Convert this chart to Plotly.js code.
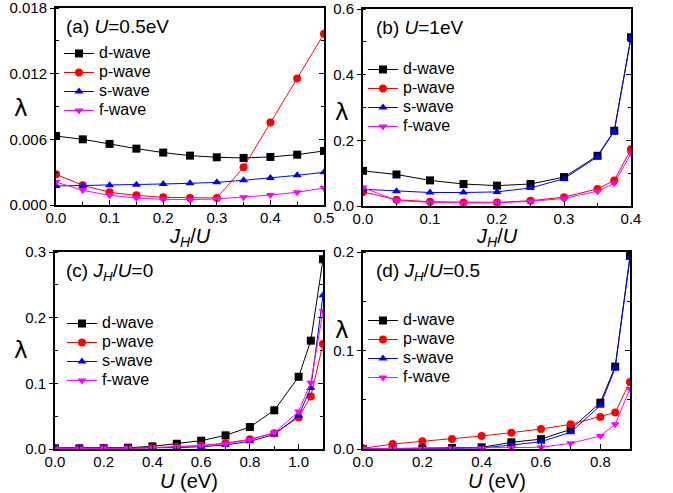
<!DOCTYPE html>
<html>
<head>
<meta charset="utf-8">
<script src="https://cdn.plot.ly/plotly-3.0.1.min.js"></script>
<style>html,body{margin:0;padding:0;background:#fff;}#chart{width:673px;height:493px;}</style>
</head>
<body>
<div id="chart"></div>
<script>
// ---- Data ----
const seriesNames = ["d-wave", "p-wave", "s-wave", "f-wave"];

// Panel (a): U = 0.5 eV, x = J_H/U
const xA = [0, 0.05, 0.1, 0.15, 0.2, 0.25, 0.3, 0.35, 0.4, 0.45, 0.5];
const aD = [0.0063, 0.0060, 0.00558, 0.00515, 0.00479, 0.00451, 0.00436, 0.0043, 0.00439, 0.0046, 0.00494];
const aP = [0.0028, 0.0018, 0.00116, 0.00088, 0.0007, 0.00064, 0.00064, 0.00345, 0.00753, 0.01155, 0.01564];
const aS = [0.00174, 0.00177, 0.0018, 0.00186, 0.00192, 0.00198, 0.00207, 0.00226, 0.00247, 0.00271, 0.00299];
const aF = [0.0021, 0.00134, 0.00088, 0.00064, 0.00052, 0.00049, 0.00055, 0.0007, 0.00091, 0.00116, 0.00155];

// Panel (b): U = 1 eV, x = J_H/U
const xB = [0, 0.05, 0.1, 0.15, 0.2, 0.25, 0.3, 0.35, 0.375, 0.4];
const bD = [0.107, 0.096, 0.078, 0.067, 0.062, 0.067, 0.088, 0.153, 0.229, 0.514];
const bP = [0.043, 0.019, 0.013, 0.011, 0.011, 0.016, 0.027, 0.052, 0.078, 0.173];
const bS = [0.051, 0.045, 0.041, 0.041, 0.043, 0.055, 0.083, 0.150, 0.228, 0.513];
const bF = [0.056, 0.017, 0.011, 0.009, 0.010, 0.014, 0.023, 0.045, 0.069, 0.160];

// Panel (c): J_H/U = 0, x = U (eV)
const xC = [0, 0.1, 0.2, 0.3, 0.4, 0.5, 0.6, 0.7, 0.8, 0.9, 1.0, 1.05, 1.1];
const cD = [0.001, 0.001, 0.0012, 0.002, 0.004, 0.008, 0.0127, 0.0208, 0.0335, 0.0589, 0.110, 0.165, 0.289];
const cP = [0.0005, 0.0005, 0.001, 0.001, 0.002, 0.003, 0.005, 0.009, 0.0147, 0.024, 0.048, 0.080, 0.160];
const cS = [0.002, 0.0015, 0.0015, 0.0015, 0.002, 0.002, 0.0035, 0.006, 0.0117, 0.022, 0.051, 0.093, 0.234];
const cF = [0.0005, 0.0005, 0.001, 0.001, 0.002, 0.003, 0.005, 0.008, 0.0142, 0.025, 0.057, 0.101, 0.210];

// Panel (d): J_H/U = 0.5, x = U (eV)
const xD = [0, 0.1, 0.2, 0.3, 0.4, 0.5, 0.6, 0.7, 0.8, 0.85, 0.9];
const dD = [0.0, 0.0003, 0.0005, 0.001, 0.0017, 0.0068, 0.010, 0.020, 0.047, 0.0836, 0.196];
const dP = [0.0007, 0.005, 0.0078, 0.0102, 0.0132, 0.0166, 0.0203, 0.025, 0.0325, 0.037, 0.068];
const dS = [0.0, 0.0002, 0.0003, 0.0005, 0.001, 0.004, 0.0074, 0.017, 0.044, 0.082, 0.194];
const dF = [0.0003, 0.0005, 0.0005, 0.0007, 0.0008, 0.001, 0.0017, 0.0058, 0.0132, 0.025, 0.061];

// Tick values
const xTicksA = [0, 0.1, 0.2, 0.3, 0.4, 0.5];
const xTicksB = [0, 0.1, 0.2, 0.3, 0.4];
const xTicksC = [0, 0.2, 0.4, 0.6, 0.8, 1.0];
const xTicksD = [0, 0.2, 0.4, 0.6, 0.8];
const yTicksA = [0, 0.006, 0.012, 0.018];
const yTicksB = [0, 0.2, 0.4, 0.6];
const yTicksC = [0, 0.1, 0.2, 0.3];
const yTicksD = [0, 0.1, 0.2];

const panelLabels = ["(a) <i>U</i>=0.5eV", "(b) <i>U</i>=1eV", "(c) <i>J<sub>H</sub></i>/<i>U</i>=0", "(d) <i>J<sub>H</sub></i>/<i>U</i>=0.5"];
const xTitles = ["<i>J<sub>H</sub></i>/<i>U</i>", "<i>J<sub>H</sub></i>/<i>U</i>", "<i>U</i> (eV)", "<i>U</i> (eV)"];
const yTitle = "λ";

// ---- Styles ----
const colors = ["#000000", "#ff0000", "#0000ff", "#ff00ff"];
const symbols = ["square", "circle", "triangle-up", "triangle-down"];
const FONT = "Liberation Sans, Arial, sans-serif";

const panels = [
  {x: xA, ys: [aD, aP, aS, aF], xt: xTicksA, yt: yTicksA},
  {x: xB, ys: [bD, bP, bS, bF], xt: xTicksB, yt: yTicksB},
  {x: xC, ys: [cD, cP, cS, cF], xt: xTicksC, yt: yTicksC},
  {x: xD, ys: [dD, dP, dS, dF], xt: xTicksD, yt: yTicksD}
];

const W = 673, H = 493;
const boxes = [[56, 324, 8, 205], [363, 631, 9, 206], [55, 323, 252, 449], [363, 630, 252, 449]];
const xRanges = [[0, 0.5], [0, 0.4], [0, 1.1], [0, 0.9]];
const yRanges = [[0, 0.018], [0, 0.6], [0, 0.3], [0, 0.2]];
const xMinor = [0.05, 0.05, 0.1, 0.1];
const yMinor = [0.003, 0.1, 0.05, 0.05];
const yFmt = [".3f", ".1f", ".1f", ".1f"];
const legendPos = [[59, 39], [363, 55], [62, 309], [363, 306]];
const labelPos = [[64, 26], [374, 28], [64, 272], [374, 272]];
const lambdaPos = [[21, 108], [342, 112], [21, 350], [342, 330]];
const xTitlePos = [[190, 237], [497, 237], [189, 481], [497, 481]];

const traces = [];
const layout = {
  width: W, height: H,
  margin: {l: 0, r: 0, t: 0, b: 0},
  paper_bgcolor: "#fff", plot_bgcolor: "#fff",
  font: {family: FONT, size: 15, color: "#000"},
  showlegend: true,
  annotations: []
};

panels.forEach((p, i) => {
  const n = i + 1;
  const xa = n === 1 ? "x" : "x" + n;
  const ya = n === 1 ? "y" : "y" + n;
  const lg = n === 1 ? "legend" : "legend" + n;
  const b = boxes[i];
  p.ys.forEach((y, k) => {
    traces.push({
      x: p.x, y: y, type: "scatter", mode: "lines+markers",
      name: '<span style="font-size:16px">' + seriesNames[k] + '</span>',
      xaxis: xa, yaxis: ya, legend: lg,
      line: {color: colors[k], width: 1},
      marker: {color: colors[k], symbol: symbols[k], size: 8, line: {width: 0}}
    });
  });
  traces.push({x: [], y: [], xaxis: xa, yaxis: "y" + (n + 4), showlegend: false, hoverinfo: "skip"});

  const xk = n === 1 ? "xaxis" : "xaxis" + n;
  const yk = n === 1 ? "yaxis" : "yaxis" + n;
  layout[xk] = {
    domain: [b[0] / W, b[1] / W], anchor: ya, range: xRanges[i],
    tickmode: "array", tickvals: p.xt, tickformat: ".1f", ticklabeloverflow: "allow",
    ticklabelstandoff: -2,
    ticks: "inside", ticklen: 5, tickwidth: 1, tickcolor: "#000",
    minor: {dtick: xMinor[i], tick0: 0, ticks: "inside", ticklen: 3, tickcolor: "#000"},
    showline: true, linewidth: 2, linecolor: "#000", mirror: true,
    showgrid: false, zeroline: false,
    tickfont: {size: 15, family: FONT}
  };
  layout[yk] = {
    domain: [1 - b[3] / H, 1 - b[2] / H], anchor: xa, range: yRanges[i],
    tickmode: "array", tickvals: p.yt, tickformat: yFmt[i], ticklabeloverflow: "allow",
    ticks: "outside", ticklen: 4, tickwidth: 1, tickcolor: "#000",
    minor: {dtick: yMinor[i], tick0: 0, ticks: "inside", ticklen: 3, tickcolor: "#000"},
    showline: true, linewidth: 2, linecolor: "#000", mirror: true,
    showgrid: false, zeroline: false,
    tickfont: {size: 15, family: FONT}
  };
  layout["yaxis" + (n + 4)] = {
    overlaying: ya, side: "right", anchor: xa, range: yRanges[i],
    tickmode: "array", tickvals: p.yt, showticklabels: false,
    ticks: "inside", ticklen: 5, tickwidth: 1, tickcolor: "#000",
    minor: {dtick: yMinor[i], tick0: 0, ticks: "inside", ticklen: 3, tickcolor: "#000"},
    showline: false, showgrid: false, zeroline: false
  };
  layout[lg] = {
    x: legendPos[i][0] / W, y: 1 - legendPos[i][1] / H, xanchor: "left", yanchor: "top",
    xref: "paper", yref: "paper",
    bgcolor: "rgba(0,0,0,0)", borderwidth: 0,
    font: {size: 12, family: FONT}, itemwidth: 30, tracegroupgap: 0
  };
  layout.annotations.push({
    text: panelLabels[i], xref: "paper", yref: "paper",
    x: labelPos[i][0] / W, y: 1 - labelPos[i][1] / H, xanchor: "left", yanchor: "middle",
    showarrow: false, font: {size: 19, family: FONT}
  });
  layout.annotations.push({
    text: yTitle, xref: "paper", yref: "paper",
    x: lambdaPos[i][0] / W, y: 1 - lambdaPos[i][1] / H, xanchor: "center", yanchor: "middle",
    showarrow: false, font: {size: 23, family: "DejaVu Sans, sans-serif"}
  });
  layout.annotations.push({
    text: xTitles[i], xref: "paper", yref: "paper",
    x: xTitlePos[i][0] / W, y: 1 - xTitlePos[i][1] / H, xanchor: "center", yanchor: "middle",
    showarrow: false, font: {size: 20, family: FONT}
  });
});

Plotly.newPlot("chart", traces, layout, {displayModeBar: false, staticPlot: true});
</script>
</body>
</html>
